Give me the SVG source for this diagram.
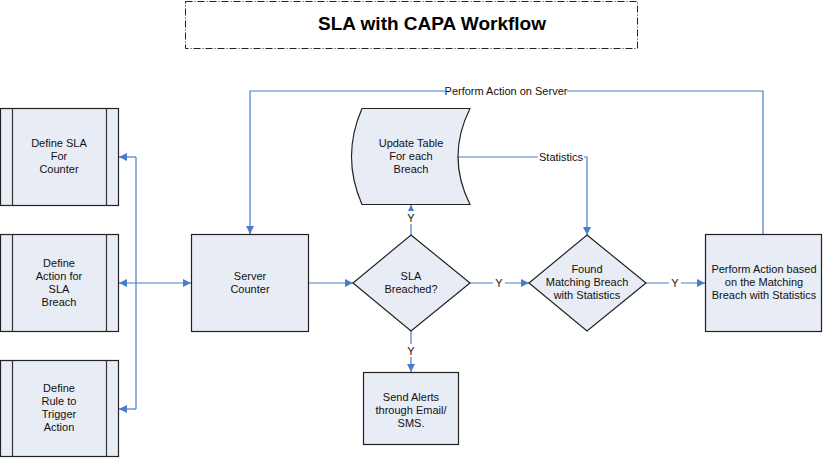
<svg xmlns="http://www.w3.org/2000/svg" width="823" height="458" viewBox="0 0 823 458">
<defs>
<style>
.n{fill:#E8ECF5;stroke:#222;stroke-width:1.2}
.in{stroke:#333;stroke-width:1.2;fill:none}
.t{font-family:"Liberation Sans",Arial,sans-serif;font-size:11px;fill:#111;text-anchor:middle}
.c{stroke:#4A7CC7;stroke-width:1.2;fill:none}
.lb{font-family:"Liberation Sans",Arial,sans-serif;font-size:11px;fill:#111;text-anchor:middle}
.bg{fill:#fff}
</style>
<marker id="ah" viewBox="0 0 10 10" refX="10" refY="5" markerWidth="8" markerHeight="8" markerUnits="userSpaceOnUse" orient="auto-start-reverse">
<path d="M0,0 L10,5 L0,10 z" fill="#4A7CC7"/>
</marker>
</defs>
<rect width="823" height="458" fill="#fff"/>
<g id="title">
<rect x="185.5" y="1.5" width="452" height="47" fill="none" stroke="#222" stroke-width="1" stroke-dasharray="7 2 1 2"/>
<text x="432" y="30" style="font-family:'Liberation Sans',Arial,sans-serif;font-size:19px;font-weight:bold;fill:#000" text-anchor="middle">SLA with CAPA Workflow</text>
</g>
<g id="connectors">
<polyline class="c" points="136,157 136,409"/>
<line class="c" x1="136" y1="157" x2="119" y2="157" marker-end="url(#ah)"/>
<line class="c" x1="136" y1="409" x2="119" y2="409" marker-end="url(#ah)"/>
<line class="c" x1="119" y1="283" x2="191" y2="283" marker-start="url(#ah)" marker-end="url(#ah)"/>
<line class="c" x1="309" y1="283" x2="353" y2="283" marker-end="url(#ah)"/>
<line class="c" x1="411" y1="235" x2="411" y2="205" marker-end="url(#ah)"/>
<rect class="bg" x="405" y="211" width="12" height="13"/>
<text class="lb" x="411" y="222">Y</text>
<line class="c" x1="411" y1="331" x2="411" y2="372" marker-end="url(#ah)"/>
<rect class="bg" x="405" y="344" width="12" height="13"/>
<text class="lb" x="411" y="355">Y</text>
<line class="c" x1="470" y1="283" x2="529" y2="283" marker-end="url(#ah)"/>
<rect class="bg" x="493" y="277" width="12" height="13"/>
<text class="lb" x="499" y="287">Y</text>
<line class="c" x1="646" y1="283" x2="705" y2="283" marker-end="url(#ah)"/>
<rect class="bg" x="669" y="277" width="12" height="13"/>
<text class="lb" x="675" y="287">Y</text>
<polyline class="c" points="458,157 587,157 587,235" marker-end="url(#ah)"/>
<rect class="bg" x="538" y="150" width="46" height="13"/>
<text class="lb" x="561" y="161">Statistics</text>
<polyline class="c" points="763,234 763,91 250,91 250,234" marker-end="url(#ah)"/>
<rect class="bg" x="445" y="84" width="122" height="13"/>
<text class="lb" x="506" y="95">Perform Action on Server</text>
</g>
<g id="define-sla">
<rect class="n" x="0.5" y="108.5" width="118" height="97"/>
<line class="in" x1="12.5" y1="108.5" x2="12.5" y2="205.5"/>
<line class="in" x1="106.5" y1="108.5" x2="106.5" y2="205.5"/>
<text class="t" x="59" y="147">Define SLA</text>
<text class="t" x="59" y="160">For</text>
<text class="t" x="59" y="173">Counter</text>
</g>
<g id="define-action">
<rect class="n" x="0.5" y="234.5" width="118" height="97"/>
<line class="in" x1="12.5" y1="234.5" x2="12.5" y2="331.5"/>
<line class="in" x1="106.5" y1="234.5" x2="106.5" y2="331.5"/>
<text class="t" x="59" y="267">Define</text>
<text class="t" x="59" y="280">Action for</text>
<text class="t" x="59" y="293">SLA</text>
<text class="t" x="59" y="306">Breach</text>
</g>
<g id="define-rule">
<rect class="n" x="0.5" y="360.5" width="118" height="96"/>
<line class="in" x1="12.5" y1="360.5" x2="12.5" y2="456.5"/>
<line class="in" x1="106.5" y1="360.5" x2="106.5" y2="456.5"/>
<text class="t" x="59" y="392">Define</text>
<text class="t" x="59" y="405">Rule to</text>
<text class="t" x="59" y="418">Trigger</text>
<text class="t" x="59" y="431">Action</text>
</g>
<g id="server-counter">
<rect class="n" x="191.5" y="234.5" width="117" height="97"/>
<text class="t" x="250" y="280">Server</text>
<text class="t" x="250" y="293">Counter</text>
</g>
<g id="sla-breached">
<polygon class="n" points="411,235 470,283 411,331 353,283"/>
<text class="t" x="411" y="280">SLA</text>
<text class="t" x="411" y="293">Breached?</text>
</g>
<g id="update-table">
<path class="n" d="M362,108.5 L470,108.5 Q446,156.5 470,204.5 L362,204.5 Q341,156.5 362,108.5 Z"/>
<text class="t" x="411" y="147">Update Table</text>
<text class="t" x="411" y="160">For each</text>
<text class="t" x="411" y="173">Breach</text>
</g>
<g id="send-alerts">
<rect class="n" x="363.5" y="372.5" width="95" height="72"/>
<text class="t" x="411" y="401">Send Alerts</text>
<text class="t" x="411" y="414">through Email/</text>
<text class="t" x="411" y="427">SMS.</text>
</g>
<g id="found-matching">
<polygon class="n" points="587,235 646,283 587,331 529,283"/>
<text class="t" x="587" y="273">Found</text>
<text class="t" x="587" y="286">Matching Breach</text>
<text class="t" x="587" y="299">with Statistics</text>
</g>
<g id="perform-action">
<rect class="n" x="705.5" y="234.5" width="116" height="97"/>
<text class="t" x="764" y="273">Perform Action based</text>
<text class="t" x="764" y="286">on the Matching</text>
<text class="t" x="764" y="299">Breach with Statistics</text>
</g>
</svg>
